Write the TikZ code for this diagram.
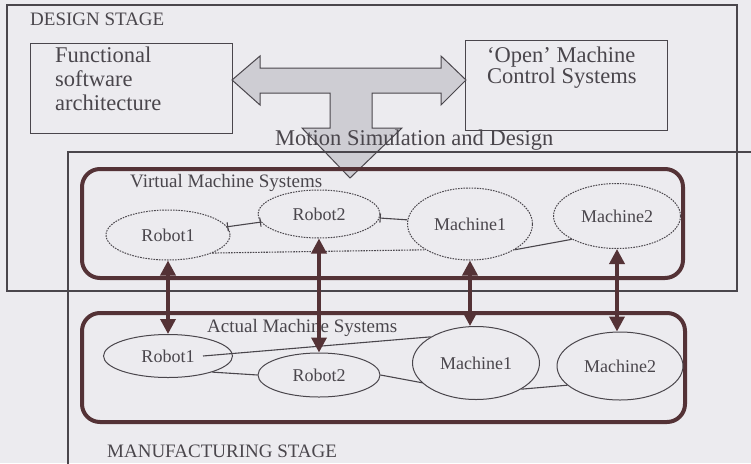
\documentclass[tikz,border=0pt]{standalone}
\usepackage{fontspec}
\setmainfont{Liberation Serif}
\usetikzlibrary{arrows.meta, shapes.geometric, positioning, calc}
\definecolor{PaperGrey}{RGB}{236,235,239}
\definecolor{InkBrown}{RGB}{84,50,54}
\definecolor{InkGrey}{RGB}{74,70,76}
\definecolor{ShadeGrey}{RGB}{206,205,211}

\begin{document}
\begin{tikzpicture}[x=1pt, y=-1pt,
		frame/.style={draw=InkGrey, line width=1.1pt},
		box/.style={draw=InkGrey, line width=1.1pt, minimum width=202pt, minimum height=90pt, inner sep=0pt},
		boxtxt/.style={align=left, inner sep=0pt, text=InkGrey, font=\fontsize{22.5}{24}\selectfont},
		sysbox/.style={draw=InkBrown, line width=4pt, rounded corners=18pt},
		lbl/.style={inner sep=0pt, text=InkGrey, font=\fontsize{19}{21}\selectfont},
		vm/.style={ellipse, draw=InkGrey, line width=1pt, dash pattern=on 1.6pt off 1.1pt, inner sep=0pt, text=InkGrey, font=\fontsize{18}{20}\selectfont},
		am/.style={vm, solid},
		link/.style={draw=InkGrey, line width=1.1pt},
		sync/.style={draw=InkBrown, line width=3.5pt, {Triangle[width=15pt,length=15pt]}-{Triangle[width=15pt,length=15pt]}}]
	% paper
	\fill[PaperGrey] (0,0) rectangle (751,463);
	\useasboundingbox (0,0) rectangle (751,463);
	\clip (0,0) rectangle (751,463);

	% Design stage
	\draw[frame] (7,5) rectangle (737,291);
	\node[lbl, anchor=base west] (design) at (30,25) {DESIGN STAGE};
	\filldraw[draw=InkGrey, fill=ShadeGrey, line width=1pt]
		(232,80) -- (260,56) -- (260,68) -- (441,68) -- (441,56) -- (466,80) -- (441,105) -- (441,93)
		-- (372,93) -- (372,128) -- (402,128) -- (350,178) -- (302,128) -- (330,128) -- (330,93)
		-- (260,93) -- (260,105) -- cycle;
	\node[box, anchor=north west] (fsa) at (30,43) {};
	\node[boxtxt, anchor=north west] (fsatxt) at (55,47) {Functional\\software\\architecture};
	\node[box, anchor=north west] (omc) at (465,40) {};
	\node[boxtxt, font=\fontsize{22.5}{21}\selectfont, anchor=north west] (omctxt) at (487,47) {`Open' Machine\\Control Systems};

	% Manufacturing stage
	\draw[frame] (68,152) rectangle (790,500);
	\node[lbl, anchor=base west] (manuf) at (107,457) {MANUFACTURING STAGE};
	\node[anchor=base west, inner sep=0pt, text=InkGrey, font=\fontsize{22.5}{24}\selectfont] (motion) at (275,145) {Motion Simulation and Design};

	% Virtual machines
	\draw[sysbox] (82,169) rectangle (683,278);
	\node[lbl, anchor=base west] (vlbl) at (130,187) {Virtual Machine Systems};
	\node[vm, minimum width=124pt, minimum height=50pt] (vr1) at (168,235) {Robot1};
	\node[vm, minimum width=122pt, minimum height=48pt] (vr2) at (319,214) {Robot2};
	\node[vm, minimum width=125pt, minimum height=72pt] (vm1) at (470,224) {Machine1};
	\node[vm, minimum width=127pt, minimum height=65pt] (vm2) at (617,216) {Machine2};
	\draw[link, {Bar[width=9pt]}-{Bar[width=9pt]}] (vr1) -- (vr2);
	\draw[link, {Bar[width=9pt]}-] (vr2) -- (vm1);
	\draw[link] (vm1.south east) -- (vm2.south west);
	\draw[link, dash pattern=on 1.6pt off 1.1pt] (vr1.south east) -- (vm1.south west);

	% Actual machines
	\draw[sysbox] (82,313) rectangle (685,422);
	\node[lbl, anchor=base west] (albl) at (207,332) {Actual Machine Systems};
	\node[am, minimum width=129pt, minimum height=43pt] (ar1) at (168,356) {Robot1};
	\node[am, minimum width=122pt, minimum height=44pt] (ar2) at (319,375) {Robot2};
	\node[am, minimum width=127pt, minimum height=73pt] (am1) at (476,363) {Machine1};
	\node[am, minimum width=126pt, minimum height=68pt] (am2) at (620,366) {Machine2};
	\draw[link] (ar1.-20) -- (ar2.west);
	\draw[link] ([xshift=35pt]ar1.center) -- (am1.north west);
	\draw[link] (ar2.east) -- (am1.200);
	\draw[link] (am1.south east) -- (am2.200);

	% virtual <-> actual
	\draw[sync] (vr1.south) -- (ar1.north);
	\draw[sync] (vr2.south) -- (ar2.north);
	\draw[sync] (vm1.south) -- (vm1.south |- am1.north);
	\draw[sync] (vm2.south) -- (vm2.south |- am2.north);
\end{tikzpicture}
\end{document}
